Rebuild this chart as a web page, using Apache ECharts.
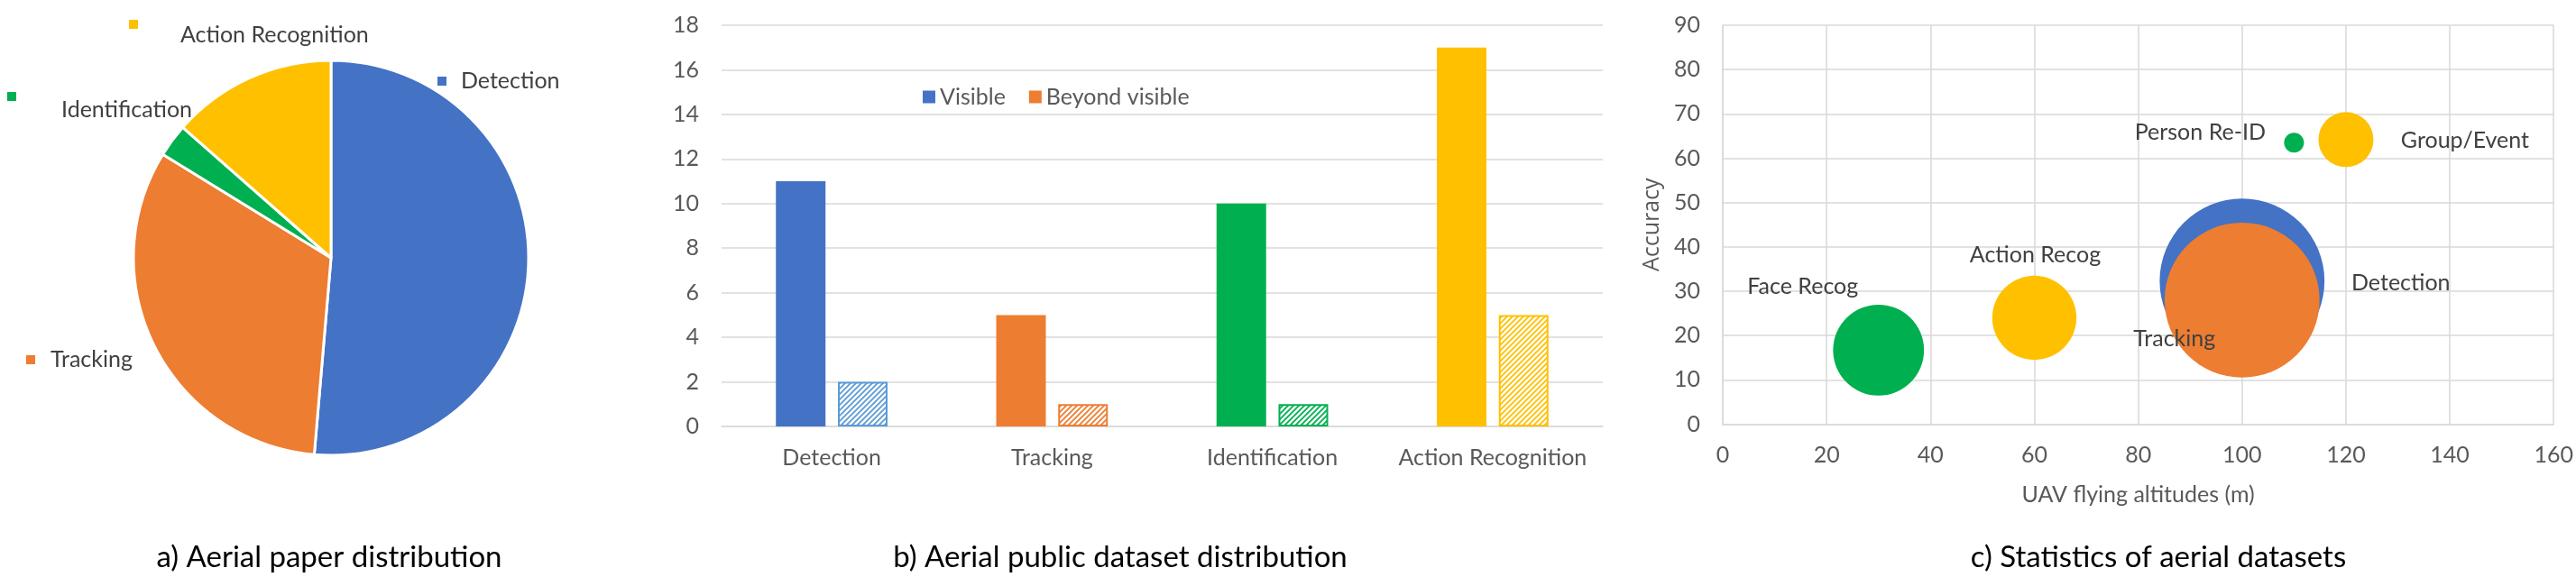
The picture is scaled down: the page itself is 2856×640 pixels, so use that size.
<!DOCTYPE html>
<html>
<head>
<meta charset="utf-8">
<script src="https://cdn.jsdelivr.net/npm/echarts@6/dist/echarts.min.js"></script>
<style>
html, body { margin: 0; padding: 0; background: #fff; }
#main { width: 2856px; height: 640px; }
</style>
</head>
<body>
<div id="main"></div>
<script>
'use strict';
// a) paper distribution
var pieNames = ['Detection', 'Tracking', 'Identification', 'Action Recognition'];
var pieValues = [38, 24, 2, 10];

// b) public dataset distribution
var barCategories = ['Detection', 'Tracking', 'Identification', 'Action Recognition'];
var visibleCounts = [11, 5, 10, 17];
var beyondCounts = [2, 1, 1, 5];

// c) statistics of aerial datasets
var bubbleNames = ['Face Recog', 'Action Recog', 'Detection', 'Tracking', 'Person Re-ID', 'Group/Event'];
var bubbleAltitude = [30, 60, 100, 100, 110, 120];
var bubbleAccuracy = [16.7, 24, 32.3, 28, 63.5, 64.2];
var bubbleSize = [21, 18, 69, 61, 1, 7.7];

// styles
var palette = ['#4472C4', '#ED7D31', '#00B050', '#FFC000'];
var hatchColors = ['#5B9BD5', '#ED7D31', '#00B050', '#FFC000'];
var bubbleColors = ['#00B050', '#FFC000', '#4472C4', '#ED7D31', '#00B050', '#FFC000'];
var FONT = 'Lato';
var LABEL = '#404040';
var TICK = '#595959';
var GRID = '#D9D9D9';

// where Excel put the pie labels (x, top, line height, gap after square, square align)
var pieSpots = [
	{x: 485, y: 75, lh: 30, gap: 16, va: 'middle'},
	{x: 29, y: 384, lh: 30, gap: 17, va: 'middle'},
	{x: 8, y: 102, lh: 40, gap: 50, va: 'top'},
	{x: 143, y: 22, lh: 34, gap: 47, va: 'top'}
];
var bubbleLabelOffsets = [[-84, -70], [1, -70], [176, 2], [-75, 43], [-104, -11], [132, 1]];

function makeHatch(color) {
	var c = document.createElement('canvas');
	c.width = 6;
	c.height = 6;
	var ctx = c.getContext('2d');
	ctx.fillStyle = '#fff';
	ctx.fillRect(0, 0, 6, 6);
	ctx.strokeStyle = color;
	ctx.lineWidth = 1.8;
	ctx.beginPath();
	ctx.moveTo(-1, 7); ctx.lineTo(7, -1);
	ctx.moveTo(-4, 4); ctx.lineTo(4, -4);
	ctx.moveTo(2, 10); ctx.lineTo(10, 2);
	ctx.stroke();
	return {image: c, repeat: 'repeat'};
}

var pieRich = {};
pieSpots.forEach(function (s, i) {
	pieRich['sq' + i] = {width: 10, height: 10, backgroundColor: palette[i], verticalAlign: s.va};
	pieRich['t' + i] = {fontSize: 25, fontFamily: FONT, color: LABEL, lineHeight: s.lh, padding: [0, 0, 0, s.gap]};
});

var myChart = echarts.init(document.getElementById('main'));
var option = {
	animation: false,
	textStyle: {fontFamily: FONT},
	title: [
		{text: 'a) Aerial paper distribution', left: 360, top: 597, textAlign: 'center',
			textStyle: {fontSize: 33, fontWeight: 'normal', color: '#000', fontFamily: FONT}},
		{text: 'b) Aerial public dataset distribution', left: 1237, top: 597, textAlign: 'center',
			textStyle: {fontSize: 33, fontWeight: 'normal', color: '#000', fontFamily: FONT}},
		{text: 'c) Statistics of aerial datasets', left: 2388, top: 597, textAlign: 'center',
			textStyle: {fontSize: 33, fontWeight: 'normal', color: '#000', fontFamily: FONT}}
	],
	legend: {
		data: ['Visible', 'Beyond visible'],
		left: 1018,
		top: 90,
		icon: 'rect',
		itemWidth: 14,
		itemHeight: 14,
		itemGap: 26,
		textStyle: {fontSize: 25, color: TICK, fontFamily: FONT}
	},
	grid: [
		{left: 800, right: 1079, top: 28, bottom: 167},
		{left: 1910, right: 24, top: 28, bottom: 169.5}
	],
	xAxis: [
		{
			type: 'category',
			gridIndex: 0,
			data: barCategories,
			axisTick: {show: false},
			axisLine: {lineStyle: {color: GRID, width: 1.5}},
			axisLabel: {fontSize: 25, color: TICK, margin: 22, interval: 0}
		},
		{
			type: 'value',
			gridIndex: 1,
			min: 0,
			max: 160,
			interval: 20,
			name: 'UAV flying altitudes (m)',
			nameLocation: 'middle',
			nameGap: 66,
			nameTextStyle: {fontSize: 25, color: TICK},
			axisTick: {show: false},
			axisLine: {lineStyle: {color: GRID, width: 1.5}},
			splitLine: {lineStyle: {color: GRID, width: 1.5}},
			axisLabel: {fontSize: 25, color: TICK, margin: 22}
		}
	],
	yAxis: [
		{
			type: 'value',
			gridIndex: 0,
			min: 0,
			max: 18,
			interval: 2,
			axisLine: {show: false},
			axisTick: {show: false},
			splitLine: {lineStyle: {color: GRID, width: 1.5}},
			axisLabel: {fontSize: 25, color: TICK, margin: 25}
		},
		{
			type: 'value',
			gridIndex: 1,
			min: 0,
			max: 90,
			interval: 10,
			name: 'Accuracy',
			nameLocation: 'middle',
			nameGap: 66,
			nameTextStyle: {fontSize: 25, color: TICK, fontFamily: 'Open Sans'},
			axisLine: {show: true, lineStyle: {color: GRID, width: 1.5}},
			axisTick: {show: false},
			splitLine: {lineStyle: {color: GRID, width: 1.5}},
			axisLabel: {fontSize: 25, color: TICK, margin: 25}
		}
	],
	series: [
		{
			name: 'Papers',
			type: 'pie',
			center: [367, 286],
			radius: 219,
			startAngle: 90,
			clockwise: true,
			itemStyle: {borderColor: '#fff', borderWidth: 3},
			label: {
				show: true,
				position: 'outside',
				overflow: 'none',
				edgeDistance: 0,
				formatter: function (p) {
					return '{sq' + p.dataIndex + '|}{t' + p.dataIndex + '|' + p.name + '}';
				},
				rich: pieRich
			},
			labelLine: {show: false},
			labelLayout: function (p) {
				var s = pieSpots[p.dataIndex];
				return {x: s.x, y: s.y, align: 'left', verticalAlign: 'top'};
			},
			emphasis: {disabled: true},
			data: pieNames.map(function (n, i) {
				return {name: n, value: pieValues[i], itemStyle: {color: palette[i]}};
			})
		},
		{
			name: 'Visible',
			type: 'bar',
			xAxisIndex: 0,
			yAxisIndex: 0,
			barWidth: 55,
			barGap: '25%',
			itemStyle: {color: palette[0]},
			data: visibleCounts.map(function (v, i) {
				return {value: v, itemStyle: {color: palette[i]}};
			})
		},
		{
			name: 'Beyond visible',
			type: 'bar',
			xAxisIndex: 0,
			yAxisIndex: 0,
			barWidth: 55,
			barGap: '25%',
			itemStyle: {color: palette[1]},
			data: beyondCounts.map(function (v, i) {
				return {value: v, itemStyle: {color: makeHatch(hatchColors[i]), borderColor: hatchColors[i], borderWidth: 2}};
			})
		},
		{
			name: 'Datasets',
			type: 'scatter',
			xAxisIndex: 1,
			yAxisIndex: 1,
			symbolSize: function (v) { return Math.sqrt(v[2]) * 22; },
			label: {
				show: true,
				position: 'inside',
				formatter: '{b}',
				fontSize: 25,
				fontFamily: FONT,
				color: LABEL,
				textBorderWidth: 0
			},
			emphasis: {disabled: true},
			data: bubbleNames.map(function (n, i) {
				return {
					name: n,
					value: [bubbleAltitude[i], bubbleAccuracy[i], bubbleSize[i]],
					itemStyle: {color: bubbleColors[i], opacity: 1},
					label: {offset: bubbleLabelOffsets[i]}
				};
			})
		}
	]
};
myChart.setOption(option);
</script>
</body>
</html>
